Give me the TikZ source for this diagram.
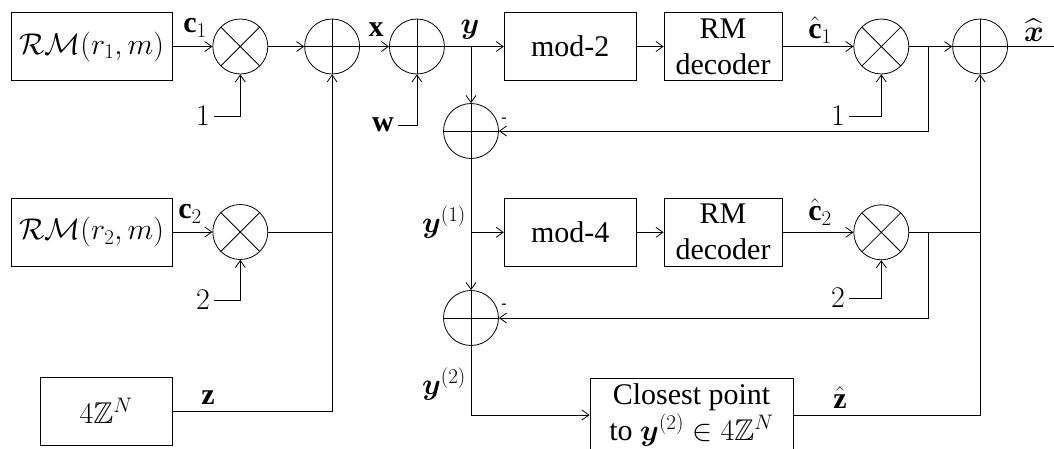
\RequirePackage{fix-cm}
\documentclass[tikz,border=0pt]{standalone}
\usepackage{amsmath,amssymb}
\usepackage{fontspec}
\setmainfont{Liberation Serif}
\usepackage{tikz}
\usetikzlibrary{arrows.meta,positioning}

\begin{document}
\begin{tikzpicture}[x=1pt, y=-1pt, line width=0.8pt,
          every node/.style={font=\fontsize{30}{36}\selectfont},
          blk/.style={draw, minimum height=68pt, inner sep=0pt, align=center},
          mul/.style={draw, circle, minimum size=55pt, inner sep=0pt,
                      path picture={\draw (path picture bounding box.north west) -- (path picture bounding box.south east)
                                          (path picture bounding box.north east) -- (path picture bounding box.south west);}},
          sum/.style={draw, circle, minimum size=55pt, inner sep=0pt,
                      path picture={\draw (path picture bounding box.north) -- (path picture bounding box.south)
                                          (path picture bounding box.west) -- (path picture bounding box.east);}},
          sgn/.style={font=\fontsize{16}{16}\selectfont, inner sep=0pt},
          arr/.style={-{Straight Barb[length=7pt, width=10pt]}}
        ]
          \useasboundingbox (0,0) rectangle (1054,448);
          % encoder side
          \node[blk, minimum width=161pt] (rm1) at (91.5,46.5) {$\mathcal{RM}(r_1,m)$};
          \node[mul, right=40pt of rm1] (mul1) {};
          \node[sum, right=36pt of mul1] (add1) {};
          \node[sum, right=29pt of add1] (add2) {};
          \node[blk, minimum width=161pt] (rm2) at (91.5,232) {$\mathcal{RM}(r_2,m)$};
          \node[mul, right=40pt of rm2] (mul2) {};
          \node[blk, minimum width=132pt] (lat) at (106,411) {$4\mathbb{Z}^N$};
          % decoder side
          \node[blk, minimum width=132pt, right=59pt of add2] (mod2) {mod-2};
          \node[blk, minimum width=118pt, right=27pt of mod2] (dec1) {RM\\decoder};
          \node[mul, right=71pt of dec1] (mul3) {};
          \node[sum, right=43pt of mul3] (add3) {};
          \node[blk, minimum width=132pt, below=117pt of mod2] (mod4) {mod-4};
          \node[blk, minimum width=118pt, right=27pt of mod4] (dec2) {RM\\decoder};
          \node[mul, right=71pt of dec2] (mul4) {};
          \node[sum] (sub1) at (471,131) {};
          \node[sum] (sub2) at (471,318) {};
          \node[blk, minimum width=203pt, minimum height=74pt] (cp) at (691.5,415) {Closest point\\to $\boldsymbol{y}^{(2)}\in 4\mathbb{Z}^N$};
          % labels
          \node (c1) at (195,28) {$\mathbf{c}_1$};
          \node (c2) at (190,214) {$\mathbf{c}_2$};
          \node (one1) at (203,116) {$1$};
          \node (two1) at (203,300) {$2$};
          \node (zl) at (208,398) {$\mathbf{z}$};
          \node (xl) at (376,30) {$\mathbf{x}$};
          \node (wl) at (383,125) {$\mathbf{w}$};
          \node (yl) at (470,30) {$\boldsymbol{y}$};
          \node (y1l) at (444,222) {$\boldsymbol{y}^{(1)}$};
          \node (y2l) at (444,384) {$\boldsymbol{y}^{(2)}$};
          \node (c1h) at (820,30) {$\hat{\mathbf{c}}_1$};
          \node (c2h) at (820,212) {$\hat{\mathbf{c}}_2$};
          \node (one3) at (838,116) {$1$};
          \node (two3) at (838,298) {$2$};
          \node (xh) at (1034,30) {$\widehat{\boldsymbol{x}}$};
          \node (zh) at (840,398) {$\hat{\mathbf{z}}$};
          \node[sgn] (neg1) at (504,120) {-};
          \node[sgn] (neg2) at (504,306) {-};
          % branch points
          \coordinate (yb) at (sub1 |- add2);
          \coordinate (yb1) at (sub1 |- mod4);
          \coordinate (fb1) at (928,46.5);
          \coordinate (fb2) at (928,231.5);
          \coordinate (out) at (1054,46.5);
          % connectors
          \draw[arr] (rm1) -- (mul1);
          \draw[arr] (mul1) -- (add1);
          \draw[arr] (one1) -| (mul1);
          \draw[arr] (rm2) -- (mul2);
          \draw[arr] (two1) -| (mul2);
          \draw (mul2) -- (add1 |- mul2);
          \draw[arr] (lat) -| (add1);
          \draw[arr] (add1) -- (add2);
          \draw[arr] (wl) -| (add2);
          \draw[arr] (add2) -- (mod2);
          \draw[arr] (yb) -- (sub1);
          \draw[arr] (mod2) -- (dec1);
          \draw[arr] (dec1) -- (mul3);
          \draw[arr] (one3) -| (mul3);
          \draw[arr] (mul3) -- (add3);
          \draw (add3) -- (out);
          \draw[arr] (fb1) |- (sub1);
          \draw[arr] (sub1) -- (sub2);
          \draw[arr] (yb1) -- (mod4);
          \draw[arr] (mod4) -- (dec2);
          \draw[arr] (dec2) -- (mul4);
          \draw[arr] (two3) -| (mul4);
          \draw (mul4) -- (add3 |- mul4);
          \draw[arr] (fb2) |- (sub2);
          \draw[arr] (sub2) |- (cp);
          \draw[arr] (cp) -| (add3);
        \end{tikzpicture}
\end{document}
